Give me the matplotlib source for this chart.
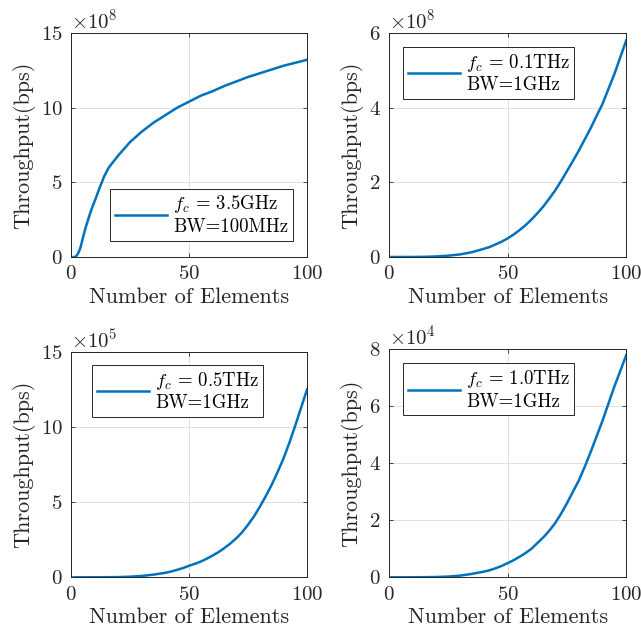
import matplotlib
matplotlib.use("Agg")
import matplotlib.pyplot as plt

plt.rcParams['font.family'] = 'serif'
plt.rcParams['font.serif'] = ['cmr10']
plt.rcParams['mathtext.fontset'] = 'cm'
plt.rcParams['axes.formatter.use_mathtext'] = True
plt.rcParams['axes.unicode_minus'] = False

# throughput vs number of elements, one panel per carrier frequency
n_35ghz = [1, 2, 3, 4, 5, 6, 7, 8, 9, 10, 12, 14, 16, 18, 20, 25, 30, 35, 40, 45, 50,
           55, 60, 65, 70, 75, 80, 85, 90, 95, 100]
thr_35ghz = [0.0, 0.02, 0.25, 0.65, 1.3, 1.9, 2.4, 2.9, 3.35, 3.75, 4.6, 5.4, 6.0, 6.4, 6.8,
             7.7, 8.4, 9.0, 9.5, 10.0, 10.4, 10.8, 11.1, 11.45, 11.75, 12.05, 12.3, 12.55,
             12.8, 13.0, 13.2]                                   # x1e8

n_thz = [1, 5, 10, 15, 20, 25, 30, 35, 40, 42.5, 45, 47.5, 50, 52.5, 55, 57.5, 60, 62.5,
         65, 67.5, 70, 72.5, 75, 77.5, 80, 82.5, 85, 87.5, 90, 92.5, 95, 97.5, 100]
thr_01thz = [0.0, 0.0, 0.001, 0.005, 0.015, 0.035, 0.07, 0.13, 0.22, 0.27, 0.34, 0.41, 0.5,
             0.6, 0.72, 0.85, 1.0, 1.17, 1.35, 1.56, 1.78, 2.03, 2.3, 2.57, 2.85, 3.15, 3.45,
             3.78, 4.1, 4.5, 4.9, 5.35, 5.8]                     # x1e8
thr_05thz = [0.0, 0.0, 0.001, 0.005, 0.015, 0.04, 0.09, 0.18, 0.3, 0.39, 0.5, 0.62, 0.77,
             0.9, 1.05, 1.24, 1.45, 1.68, 1.95, 2.25, 2.6, 3.0, 3.5, 4.05, 4.7, 5.4, 6.15,
             7.0, 7.9, 8.95, 10.1, 11.3, 12.5]                   # x1e5
thr_10thz = [0.0, 0.0, 0.001, 0.004, 0.01, 0.025, 0.06, 0.12, 0.2, 0.25, 0.32, 0.4, 0.5,
             0.6, 0.72, 0.85, 1.0, 1.2, 1.4, 1.63, 1.9, 2.23, 2.6, 3.0, 3.4, 3.88, 4.4,
             4.95, 5.5, 6.1, 6.7, 7.25, 7.8]                     # x1e4

panels = [
    (n_35ghz, thr_35ghz, 1e8, 8, [0, 5, 10, 15], r'$f_c\,=\,3.5$GHz' + '\nBW=100MHz',
     'lower right', (0.94, 0.072)),
    (n_thz, thr_01thz, 1e8, 8, [0, 2, 4, 6], r'$f_c\,=\,0.1$THz' + '\nBW=1GHz',
     'upper left', (0.059, 0.9375)),
    (n_thz, thr_05thz, 1e5, 5, [0, 5, 10, 15], r'$f_c\,=\,0.5$THz' + '\nBW=1GHz',
     'upper left', (0.089, 0.942)),
    (n_thz, thr_10thz, 1e4, 4, [0, 2, 4, 6, 8], r'$f_c\,=\,1.0$THz' + '\nBW=1GHz',
     'upper left', (0.059, 0.939)),
]

rects = [
    [0.111, 0.594, 0.368, 0.354],
    [0.607, 0.594, 0.370, 0.354],
    [0.111, 0.088, 0.368, 0.356],
    [0.607, 0.088, 0.370, 0.360],
]

dark = '#262626'
fig = plt.figure(figsize=(6.41, 6.33), dpi=100)

for rect, (x, y, scale, expo, yt, label, loc, anchor) in zip(rects, panels):
    ax = fig.add_axes(rect)
    ax.plot(x, [v * scale for v in y], color='#0072BD', lw=1.8, label=label)
    ax.set_xlim(0, 100)
    ax.set_ylim(0, yt[-1] * scale)
    ax.set_xticks([0, 50, 100])
    ax.set_yticks([v * scale for v in yt])
    ax.ticklabel_format(axis='y', style='sci', scilimits=(expo, expo))
    ax.yaxis.get_offset_text().set_fontsize(15)
    ax.yaxis.get_offset_text().set_color(dark)
    ax.grid(True, color='#dcdcdc', lw=0.6)
    ax.set_axisbelow(True)
    ax.tick_params(direction='in', length=3, width=0.6, top=True, right=True,
                   labelsize=15, colors=dark, pad=6)
    for sp in ax.spines.values():
        sp.set_color(dark)
        sp.set_linewidth(0.7)
    ax.set_xlabel('Number of Elements', fontsize=16, color=dark, labelpad=3)
    ax.set_ylabel('Throughput(bps)', fontsize=16, color=dark, labelpad=4)
    leg = ax.legend(loc=loc, bbox_to_anchor=anchor, borderaxespad=0, fontsize=13.5,
                    fancybox=False, framealpha=1, edgecolor=dark, handlelength=2.8,
                    borderpad=0.25, handletextpad=0.3, labelspacing=0.2)
    leg.get_frame().set_linewidth(0.7)

fig.savefig('out.png', dpi=100)
